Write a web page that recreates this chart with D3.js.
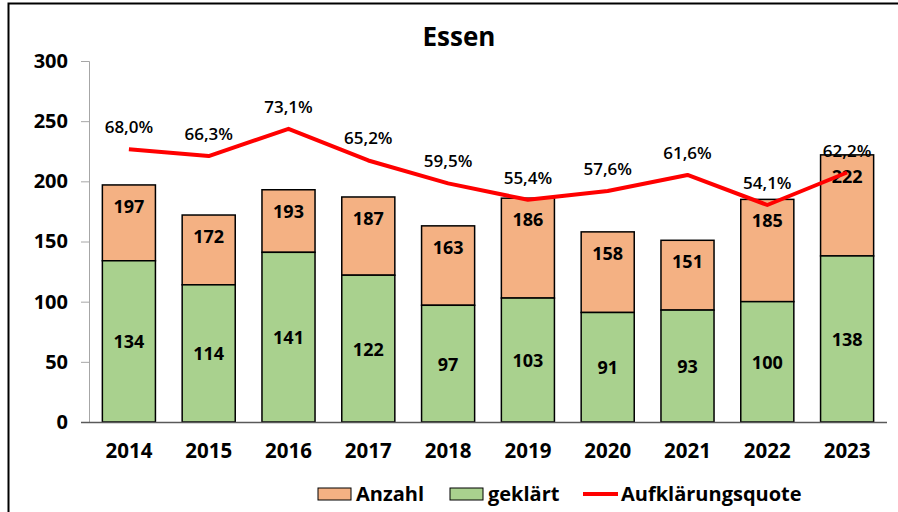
<!DOCTYPE html>
<html>
<head>
<meta charset="utf-8">
<script src="https://cdn.jsdelivr.net/npm/d3@7"></script>
<style>
  body { margin: 0; background: #fff; }
  text { font-family: "Open Sans", "Liberation Sans", sans-serif; }
</style>
</head>
<body>
<svg width="898" height="512"></svg>
<script>
// chart data
const years = ["2014", "2015", "2016", "2017", "2018", "2019", "2020", "2021", "2022", "2023"];
const anzahl = [197, 172, 193, 187, 163, 186, 158, 151, 185, 222];
const geklaert = [134, 114, 141, 122, 97, 103, 91, 93, 100, 138];
const quote = [68.0, 66.3, 73.1, 65.2, 59.5, 55.4, 57.6, 61.6, 54.1, 62.2];
const yTicks = [0, 50, 100, 150, 200, 250, 300];

const anzahlColor = "#f4b183";
const geklaertColor = "#a9d18e";
const quoteColor = "#ff0000";

const svg = d3.select("svg");

// outer frame (right/bottom edges fall outside the picture)
svg.append("rect")
    .attr("x", 8.5).attr("y", 3.5)
    .attr("width", 900).attr("height", 520)
    .attr("fill", "none").attr("stroke", "#000").attr("stroke-width", 2);

const plotLeft = 89, plotRight = 887, plotTop = 61, plotBottom = 422;

const x = d3.scaleBand().domain(years).range([plotLeft, plotRight]).paddingInner(0.335).paddingOuter(0.1675);
const y = d3.scaleLinear().domain([0, 300]).range([plotBottom, plotTop]);
// hidden secondary axis for the percentage line
const y2 = d3.scaleLinear().domain([0, 90]).range([plotBottom, plotTop]);

// title
svg.append("text")
    .attr("x", 459).attr("y", 46)
    .attr("text-anchor", "middle")
    .attr("font-size", 26).attr("font-weight", "bold")
    .text("Essen");

// y axis
const yAxis = svg.append("g")
    .attr("transform", `translate(${plotLeft},0)`)
    .call(d3.axisLeft(y).tickValues(yTicks).tickSize(8).tickPadding(13));
yAxis.select(".domain").attr("stroke", "#a6a6a6");
yAxis.selectAll(".tick line").attr("stroke", "#a6a6a6");
yAxis.selectAll(".tick text")
    .attr("font-size", 20).attr("font-weight", "bold").attr("fill", "#000")
    .style("font-family", "'Open Sans', sans-serif");

// bars: orange spans geklärt..anzahl, green spans 0..geklärt
const rows = years.map((yr, i) => ({ year: yr, anzahl: anzahl[i], geklaert: geklaert[i], quote: quote[i] }));

svg.append("g").selectAll("rect")
    .data(rows).join("rect")
    .attr("x", d => x(d.year))
    .attr("y", d => y(d.anzahl))
    .attr("width", x.bandwidth())
    .attr("height", d => y(d.geklaert) - y(d.anzahl))
    .attr("fill", anzahlColor).attr("stroke", "#000").attr("stroke-width", 1.5);

svg.append("g").selectAll("rect")
    .data(rows).join("rect")
    .attr("x", d => x(d.year))
    .attr("y", d => y(d.geklaert))
    .attr("width", x.bandwidth())
    .attr("height", d => y(0) - y(d.geklaert))
    .attr("fill", geklaertColor).attr("stroke", "#000").attr("stroke-width", 1.5);

// x axis
const xAxis = svg.append("g")
    .attr("transform", `translate(0,${plotBottom})`)
    .call(d3.axisBottom(x).tickSize(0).tickPadding(21));
xAxis.select(".domain").attr("d", `M${plotLeft - 8},0.5H${plotRight}`).attr("stroke", "#595959").attr("stroke-width", 1.5);
xAxis.selectAll(".tick text")
    .attr("font-size", 20.5).attr("font-weight", "bold").attr("fill", "#000")
    .style("font-family", "'Open Sans', sans-serif");

// bar labels
svg.append("g").selectAll("text")
    .data(rows).join("text")
    .attr("x", d => x(d.year) + x.bandwidth() / 2)
    .attr("y", d => y(d.anzahl) + 28)
    .attr("text-anchor", "middle")
    .attr("font-size", 18).attr("font-weight", "bold")
    .text(d => d.anzahl);

svg.append("g").selectAll("text")
    .data(rows).join("text")
    .attr("x", d => x(d.year) + x.bandwidth() / 2)
    .attr("y", d => (y(d.geklaert) + y(0)) / 2 + 7)
    .attr("text-anchor", "middle")
    .attr("font-size", 18).attr("font-weight", "bold")
    .text(d => d.geklaert);

// percentage line
const line = d3.line()
    .x(d => x(d.year) + x.bandwidth() / 2)
    .y(d => y2(d.quote));

svg.append("path")
    .datum(rows)
    .attr("d", line)
    .attr("fill", "none")
    .attr("stroke", quoteColor)
    .attr("stroke-width", 4)
    .attr("stroke-linejoin", "round");

const fmt = v => v.toFixed(1).replace(".", ",") + "%";
svg.append("g").selectAll("text")
    .data(rows).join("text")
    .attr("x", d => x(d.year) + x.bandwidth() / 2)
    .attr("y", d => y2(d.quote) - 16)
    .attr("text-anchor", "middle")
    .attr("font-size", 17).attr("font-weight", 600)
    .text(d => fmt(d.quote));

// legend
const legend = svg.append("g").attr("transform", "translate(0,494)");
const legendItems = [
    { label: "Anzahl", color: anzahlColor, type: "box", x: 318 },
    { label: "geklärt", color: geklaertColor, type: "box", x: 450 },
    { label: "Aufklärungsquote", color: quoteColor, type: "line", x: 583 }
];
legendItems.forEach(item => {
    if (item.type === "box") {
        legend.append("rect")
            .attr("x", item.x).attr("y", -6)
            .attr("width", 33).attr("height", 12)
            .attr("fill", item.color).attr("stroke", "#000").attr("stroke-width", 1);
    } else {
        legend.append("line")
            .attr("x1", item.x).attr("x2", item.x + 35)
            .attr("y1", 0).attr("y2", 0)
            .attr("stroke", item.color).attr("stroke-width", 4);
    }
    legend.append("text")
        .attr("x", item.x + 38).attr("y", 7)
        .attr("font-size", 20).attr("font-weight", "bold")
        .text(item.label);
});
</script>
</body>
</html>
